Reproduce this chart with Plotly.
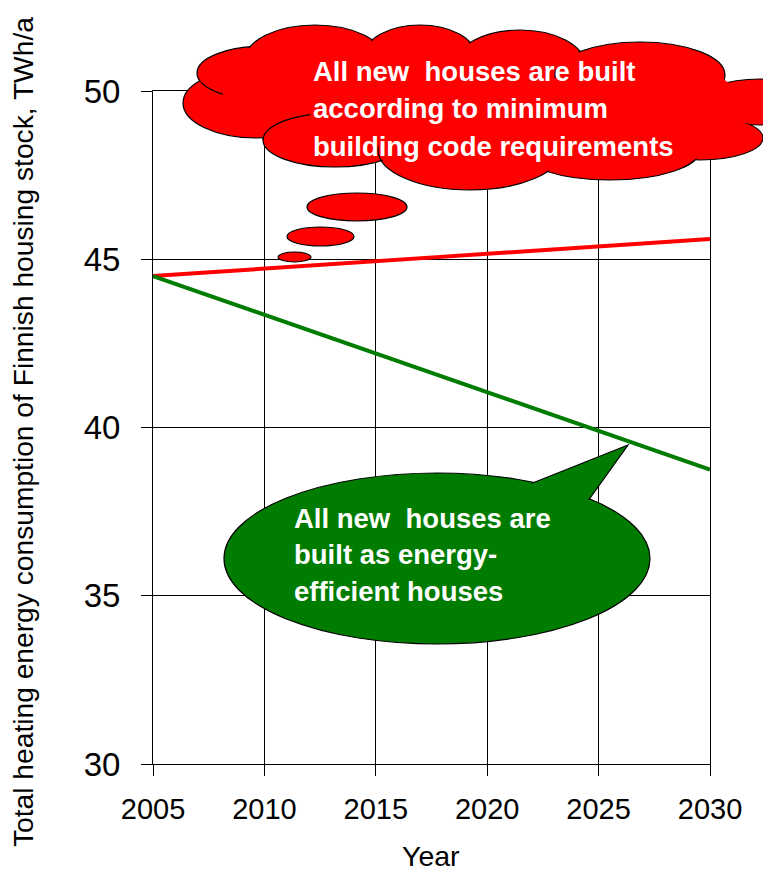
import math
import plotly.graph_objects as go

# data
years = [2005, 2030]
minimum_code = [44.5, 45.6]
energy_efficient = [44.5, 38.75]

x_ticks = [2005, 2010, 2015, 2020, 2025, 2030]
y_ticks = [30, 35, 40, 45, 50]

red_text = ["All new\u00a0 houses are built", "according to minimum", "building code requirements"]
green_text = ["All new\u00a0 houses are", "built as energy-", "efficient houses"]

# the page puts the plot 8 px in from the corner, so the figure is 8 px smaller
OFF = 8
W, H = 771 - OFF, 872 - OFF
L, T = 153 - OFF, 91 - OFF
PW, PH = 557, 673
R, B = W - L - PW, H - T - PH

RED = "#ff0000"
GREEN = "#007c00"
FONT = "Liberation Sans, Arial, sans-serif"


def px(x):
    # picture x (pixels) -> paper
    return (x - OFF - L) / PW


def py(y):
    # picture y (pixels) -> paper
    return (T + PH - (y - OFF)) / PH


def ellipse(box, fill, line_w=1.0, inset=0.0):
    x0, y0, x1, y1 = box
    return dict(type="circle", xref="paper", yref="paper",
                x0=px(x0 + inset), x1=px(x1 - inset), y0=py(y1 - inset), y1=py(y0 + inset),
                fillcolor=fill,
                line=dict(color="black" if line_w else "rgba(0,0,0,0)", width=line_w),
                layer="above")


def arc(box, t0, t1, n=16):
    x0, y0, x1, y1 = box
    cx, cy, rx, ry = (x0 + x1) / 2, (y0 + y1) / 2, (x1 - x0) / 2, (y1 - y0) / 2
    pts = []
    for k in range(n + 1):
        t = math.radians(t0 + (t1 - t0) * k / n)
        pts.append(f"{px(cx + rx * math.cos(t)):.5f},{py(cy + ry * math.sin(t)):.5f}")
    return dict(type="path", xref="paper", yref="paper", path="M " + " L ".join(pts),
                line=dict(color="black", width=1.2), layer="above")


fig = go.Figure()

fig.add_trace(go.Scatter(x=years, y=minimum_code, mode="lines",
                         line=dict(color=RED, width=4), showlegend=False))
fig.add_trace(go.Scatter(x=years, y=energy_efficient, mode="lines",
                         line=dict(color=GREEN, width=4), showlegend=False))

shapes = []

# cloud made from lobes: outlined first, then filled again without outline
lobes = [
    (183, 68, 330, 138), (197, 46, 333, 100), (245, 25, 385, 95), (365, 25, 475, 85),
    (455, 30, 585, 100), (555, 42, 725, 108), (698, 79, 822, 125), (637, 116, 763, 160),
    (520, 120, 700, 180), (378, 110, 562, 190), (263, 113, 407, 167),
]
fillers = [(240, 50, 700, 160), (560, 60, 740, 150)]
for lb in lobes:
    shapes.append(ellipse(lb, RED, 1.2))
for lb in lobes:
    shapes.append(ellipse(lb, RED, 0, inset=1.3))
for fb in fillers:
    shapes.append(ellipse(fb, RED, 0))
# inner arcs of the cloud
shapes.append(arc(lobes[1], 128, 160))
shapes.append(arc(lobes[10], 180, 250))
shapes.append(arc(lobes[5], 175, 190, 6))
shapes.append(arc(lobes[9], 165, 185, 6))
shapes.append(arc(lobes[8], 20, 35, 6))

# thought bubbles
for eb in [(307, 193, 407, 221), (287, 227, 354, 246), (278, 252, 311, 262)]:
    shapes.append(ellipse(eb, RED, 1.2))

# speech bubble
gbox = (224, 473, 650, 644)
shapes.append(ellipse(gbox, GREEN, 1.2))
tail = [(515, 490), (628, 445), (585, 505)]
path = "M " + " L ".join(f"{px(a):.5f},{py(b):.5f}" for a, b in tail) + " Z"
shapes.append(dict(type="path", xref="paper", yref="paper", path=path,
                   fillcolor=GREEN, line=dict(color="black", width=1.2), layer="above"))
shapes.append(ellipse(gbox, GREEN, 0, inset=1.3))

annotations = []
for i, txt in enumerate(red_text):
    annotations.append(dict(text=txt, xref="paper", yref="paper", x=px(311), y=py(71 + 37.5 * i),
                            xanchor="left", yanchor="middle", showarrow=False,
                            font=dict(family=FONT, size=27.5, color="white", weight="bold")))
for i, txt in enumerate(green_text):
    annotations.append(dict(text=txt, xref="paper", yref="paper", x=px(292), y=py(518 + 36.5 * i),
                            xanchor="left", yanchor="middle", showarrow=False,
                            font=dict(family=FONT, size=27.5, color="white", weight="bold")))

annotations.append(dict(text="Total heating energy consumption of Finnish housing stock, TWh/a",
                        xref="paper", yref="paper", x=px(23), y=py(432), textangle=-90,
                        xanchor="center", yanchor="middle", showarrow=False,
                        font=dict(family=FONT, size=28.2, color="black")))
annotations.append(dict(text="Year", xref="paper", yref="paper", x=px(431), y=py(856),
                        xanchor="center", yanchor="middle", showarrow=False,
                        font=dict(family=FONT, size=28.5, color="black")))

axis_common = dict(showgrid=True, gridcolor="black", gridwidth=1, zeroline=False,
                   showline=True, mirror=True, linecolor="black", linewidth=1,
                   ticks="outside", ticklen=11, tickwidth=1, tickcolor="black")

fig.update_layout(
    width=W, height=H,
    margin=dict(l=L, r=R, t=T, b=B),
    paper_bgcolor="white", plot_bgcolor="white",
    xaxis=dict(range=[2005, 2030], tickvals=x_ticks, ticktext=[str(v) for v in x_ticks],
               ticklabelstandoff=8,
               tickfont=dict(family=FONT, size=29, color="black"), **axis_common),
    yaxis=dict(range=[30, 50], tickvals=y_ticks, ticktext=[str(v) for v in y_ticks],
               ticklabelstandoff=14,
               tickfont=dict(family=FONT, size=33, color="black"), **axis_common),
    shapes=shapes,
    annotations=annotations,
    showlegend=False,
)

fig.write_html("out.html")
